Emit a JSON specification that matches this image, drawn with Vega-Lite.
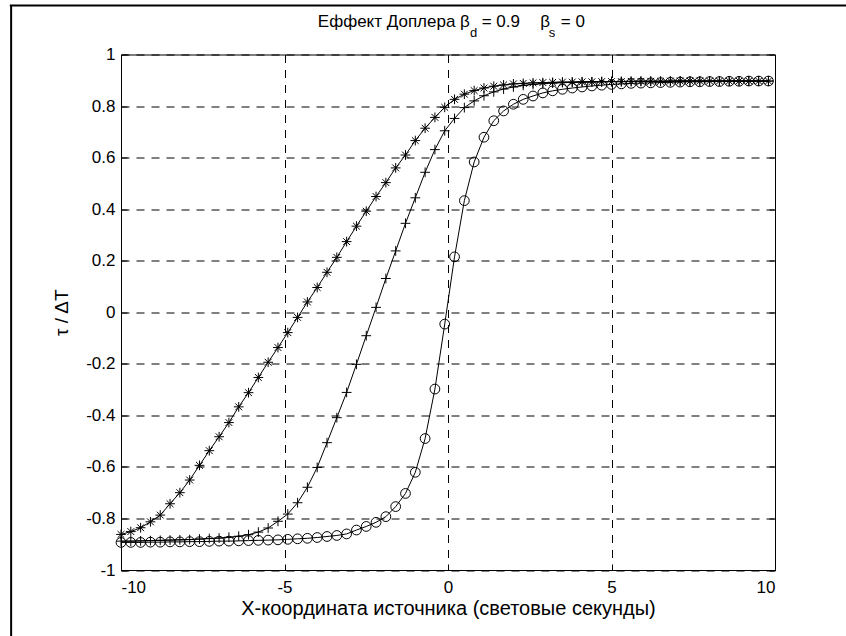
{
  "$schema": "https://vega.github.io/schema/vega-lite/v6.json",
  "width": 654,
  "height": 515.5,
  "autosize": {"type": "none"},
  "padding": {"left": 121, "top": 54.5, "right": 71, "bottom": 66},
  "background": "white",
  "config": {
    "view": {"stroke": "#000", "strokeWidth": 1},
    "font": "Liberation Sans",
    "axis": {"labelFont": "Liberation Sans", "titleFont": "Liberation Sans", "labelColor": "#000", "titleColor": "#000", "tickColor": "#000", "domainColor": "#000"}
  },
  "datasets": {
    "curves": [
      {"x": -10, "y": -0.862, "s": "star"}, {"x": -9.7, "y": -0.851, "s": "star"}, {"x": -9.4, "y": -0.836, "s": "star"}, {"x": -9.1, "y": -0.813, "s": "star"}, {"x": -8.8, "y": -0.787, "s": "star"}, {"x": -8.5, "y": -0.743, "s": "star"}, {"x": -8.2, "y": -0.7, "s": "star"}, {"x": -7.9, "y": -0.651, "s": "star"}, {"x": -7.6, "y": -0.594, "s": "star"}, {"x": -7.3, "y": -0.537, "s": "star"},
      {"x": -7, "y": -0.483, "s": "star"}, {"x": -6.7, "y": -0.428, "s": "star"}, {"x": -6.4, "y": -0.367, "s": "star"}, {"x": -6.1, "y": -0.312, "s": "star"}, {"x": -5.8, "y": -0.253, "s": "star"}, {"x": -5.5, "y": -0.194, "s": "star"}, {"x": -5.2, "y": -0.137, "s": "star"}, {"x": -4.9, "y": -0.079, "s": "star"}, {"x": -4.6, "y": -0.02, "s": "star"}, {"x": -4.3, "y": 0.04, "s": "star"},
      {"x": -4, "y": 0.096, "s": "star"}, {"x": -3.7, "y": 0.155, "s": "star"}, {"x": -3.4, "y": 0.213, "s": "star"}, {"x": -3.1, "y": 0.274, "s": "star"}, {"x": -2.8, "y": 0.334, "s": "star"}, {"x": -2.5, "y": 0.392, "s": "star"}, {"x": -2.2, "y": 0.449, "s": "star"}, {"x": -1.9, "y": 0.503, "s": "star"}, {"x": -1.6, "y": 0.56, "s": "star"}, {"x": -1.3, "y": 0.61, "s": "star"},
      {"x": -1, "y": 0.666, "s": "star"}, {"x": -0.7, "y": 0.714, "s": "star"}, {"x": -0.4, "y": 0.756, "s": "star"}, {"x": -0.1, "y": 0.795, "s": "star"}, {"x": 0.2, "y": 0.826, "s": "star"}, {"x": 0.5, "y": 0.846, "s": "star"}, {"x": 0.8, "y": 0.86, "s": "star"}, {"x": 1.1, "y": 0.87, "s": "star"}, {"x": 1.4, "y": 0.877, "s": "star"}, {"x": 1.7, "y": 0.882, "s": "star"},
      {"x": 2, "y": 0.886, "s": "star"}, {"x": 2.3, "y": 0.888, "s": "star"}, {"x": 2.6, "y": 0.89, "s": "star"}, {"x": 2.9, "y": 0.891, "s": "star"}, {"x": 3.2, "y": 0.892, "s": "star"}, {"x": 3.5, "y": 0.893, "s": "star"}, {"x": 3.8, "y": 0.893, "s": "star"}, {"x": 4.1, "y": 0.894, "s": "star"}, {"x": 4.4, "y": 0.894, "s": "star"}, {"x": 4.7, "y": 0.895, "s": "star"},
      {"x": 5, "y": 0.895, "s": "star"}, {"x": 5.3, "y": 0.895, "s": "star"}, {"x": 5.6, "y": 0.896, "s": "star"}, {"x": 5.9, "y": 0.896, "s": "star"}, {"x": 6.2, "y": 0.896, "s": "star"}, {"x": 6.5, "y": 0.896, "s": "star"}, {"x": 6.8, "y": 0.897, "s": "star"}, {"x": 7.1, "y": 0.897, "s": "star"}, {"x": 7.4, "y": 0.897, "s": "star"}, {"x": 7.7, "y": 0.897, "s": "star"},
      {"x": 8, "y": 0.897, "s": "star"}, {"x": 8.3, "y": 0.897, "s": "star"}, {"x": 8.6, "y": 0.897, "s": "star"}, {"x": 8.9, "y": 0.897, "s": "star"}, {"x": 9.2, "y": 0.897, "s": "star"}, {"x": 9.5, "y": 0.897, "s": "star"}, {"x": 9.8, "y": 0.897, "s": "star"},

      {"x": -10, "y": -0.888, "s": "plus"}, {"x": -9.7, "y": -0.888, "s": "plus"}, {"x": -9.4, "y": -0.887, "s": "plus"}, {"x": -9.1, "y": -0.886, "s": "plus"}, {"x": -8.8, "y": -0.885, "s": "plus"}, {"x": -8.5, "y": -0.884, "s": "plus"}, {"x": -8.2, "y": -0.883, "s": "plus"}, {"x": -7.9, "y": -0.882, "s": "plus"}, {"x": -7.6, "y": -0.88, "s": "plus"}, {"x": -7.3, "y": -0.878, "s": "plus"},
      {"x": -7, "y": -0.876, "s": "plus"}, {"x": -6.7, "y": -0.873, "s": "plus"}, {"x": -6.4, "y": -0.869, "s": "plus"}, {"x": -6.1, "y": -0.863, "s": "plus"}, {"x": -5.8, "y": -0.853, "s": "plus"}, {"x": -5.5, "y": -0.837, "s": "plus"}, {"x": -5.2, "y": -0.811, "s": "plus"}, {"x": -4.9, "y": -0.783, "s": "plus"}, {"x": -4.6, "y": -0.739, "s": "plus"}, {"x": -4.3, "y": -0.679, "s": "plus"},
      {"x": -4, "y": -0.602, "s": "plus"}, {"x": -3.7, "y": -0.506, "s": "plus"}, {"x": -3.4, "y": -0.409, "s": "plus"}, {"x": -3.1, "y": -0.311, "s": "plus"}, {"x": -2.8, "y": -0.202, "s": "plus"}, {"x": -2.5, "y": -0.091, "s": "plus"}, {"x": -2.2, "y": 0.019, "s": "plus"}, {"x": -1.9, "y": 0.131, "s": "plus"}, {"x": -1.6, "y": 0.238, "s": "plus"}, {"x": -1.3, "y": 0.345, "s": "plus"},
      {"x": -1, "y": 0.444, "s": "plus"}, {"x": -0.7, "y": 0.543, "s": "plus"}, {"x": -0.4, "y": 0.631, "s": "plus"}, {"x": -0.1, "y": 0.704, "s": "plus"}, {"x": 0.2, "y": 0.752, "s": "plus"}, {"x": 0.5, "y": 0.794, "s": "plus"}, {"x": 0.8, "y": 0.82, "s": "plus"}, {"x": 1.1, "y": 0.84, "s": "plus"}, {"x": 1.4, "y": 0.855, "s": "plus"}, {"x": 1.7, "y": 0.866, "s": "plus"},
      {"x": 2, "y": 0.874, "s": "plus"}, {"x": 2.3, "y": 0.88, "s": "plus"}, {"x": 2.6, "y": 0.884, "s": "plus"}, {"x": 2.9, "y": 0.887, "s": "plus"}, {"x": 3.2, "y": 0.889, "s": "plus"}, {"x": 3.5, "y": 0.891, "s": "plus"}, {"x": 3.8, "y": 0.892, "s": "plus"}, {"x": 4.1, "y": 0.893, "s": "plus"}, {"x": 4.4, "y": 0.894, "s": "plus"}, {"x": 4.7, "y": 0.894, "s": "plus"},
      {"x": 5, "y": 0.895, "s": "plus"}, {"x": 5.3, "y": 0.895, "s": "plus"}, {"x": 5.6, "y": 0.895, "s": "plus"}, {"x": 5.9, "y": 0.896, "s": "plus"}, {"x": 6.2, "y": 0.896, "s": "plus"}, {"x": 6.5, "y": 0.896, "s": "plus"}, {"x": 6.8, "y": 0.896, "s": "plus"}, {"x": 7.1, "y": 0.897, "s": "plus"}, {"x": 7.4, "y": 0.897, "s": "plus"}, {"x": 7.7, "y": 0.897, "s": "plus"},
      {"x": 8, "y": 0.897, "s": "plus"}, {"x": 8.3, "y": 0.897, "s": "plus"}, {"x": 8.6, "y": 0.897, "s": "plus"}, {"x": 8.9, "y": 0.897, "s": "plus"}, {"x": 9.2, "y": 0.897, "s": "plus"}, {"x": 9.5, "y": 0.897, "s": "plus"}, {"x": 9.8, "y": 0.897, "s": "plus"},

      {"x": -10, "y": -0.893, "s": "circle"}, {"x": -9.7, "y": -0.893, "s": "circle"}, {"x": -9.4, "y": -0.893, "s": "circle"}, {"x": -9.1, "y": -0.892, "s": "circle"}, {"x": -8.8, "y": -0.892, "s": "circle"}, {"x": -8.5, "y": -0.891, "s": "circle"}, {"x": -8.2, "y": -0.891, "s": "circle"}, {"x": -7.9, "y": -0.89, "s": "circle"}, {"x": -7.6, "y": -0.89, "s": "circle"}, {"x": -7.3, "y": -0.889, "s": "circle"},
      {"x": -7, "y": -0.888, "s": "circle"}, {"x": -6.7, "y": -0.888, "s": "circle"}, {"x": -6.4, "y": -0.887, "s": "circle"}, {"x": -6.1, "y": -0.886, "s": "circle"}, {"x": -5.8, "y": -0.885, "s": "circle"}, {"x": -5.5, "y": -0.884, "s": "circle"}, {"x": -5.2, "y": -0.883, "s": "circle"}, {"x": -4.9, "y": -0.881, "s": "circle"}, {"x": -4.6, "y": -0.879, "s": "circle"}, {"x": -4.3, "y": -0.877, "s": "circle"},
      {"x": -4, "y": -0.874, "s": "circle"}, {"x": -3.7, "y": -0.87, "s": "circle"}, {"x": -3.4, "y": -0.866, "s": "circle"}, {"x": -3.1, "y": -0.86, "s": "circle"}, {"x": -2.8, "y": -0.845, "s": "circle"}, {"x": -2.5, "y": -0.831, "s": "circle"}, {"x": -2.2, "y": -0.815, "s": "circle"}, {"x": -1.9, "y": -0.793, "s": "circle"}, {"x": -1.6, "y": -0.754, "s": "circle"}, {"x": -1.3, "y": -0.703, "s": "circle"},
      {"x": -1, "y": -0.621, "s": "circle"}, {"x": -0.7, "y": -0.49, "s": "circle"}, {"x": -0.4, "y": -0.298, "s": "circle"}, {"x": -0.1, "y": -0.046, "s": "circle"}, {"x": 0.2, "y": 0.215, "s": "circle"}, {"x": 0.5, "y": 0.433, "s": "circle"}, {"x": 0.8, "y": 0.583, "s": "circle"}, {"x": 1.1, "y": 0.679, "s": "circle"}, {"x": 1.4, "y": 0.743, "s": "circle"}, {"x": 1.7, "y": 0.781, "s": "circle"},
      {"x": 2, "y": 0.807, "s": "circle"}, {"x": 2.3, "y": 0.826, "s": "circle"}, {"x": 2.6, "y": 0.839, "s": "circle"}, {"x": 2.9, "y": 0.851, "s": "circle"}, {"x": 3.2, "y": 0.859, "s": "circle"}, {"x": 3.5, "y": 0.865, "s": "circle"}, {"x": 3.8, "y": 0.87, "s": "circle"}, {"x": 4.1, "y": 0.874, "s": "circle"}, {"x": 4.4, "y": 0.878, "s": "circle"}, {"x": 4.7, "y": 0.881, "s": "circle"},
      {"x": 5, "y": 0.884, "s": "circle"}, {"x": 5.3, "y": 0.886, "s": "circle"}, {"x": 5.6, "y": 0.888, "s": "circle"}, {"x": 5.9, "y": 0.889, "s": "circle"}, {"x": 6.2, "y": 0.89, "s": "circle"}, {"x": 6.5, "y": 0.891, "s": "circle"}, {"x": 6.8, "y": 0.892, "s": "circle"}, {"x": 7.1, "y": 0.893, "s": "circle"}, {"x": 7.4, "y": 0.894, "s": "circle"}, {"x": 7.7, "y": 0.894, "s": "circle"},
      {"x": 8, "y": 0.895, "s": "circle"}, {"x": 8.3, "y": 0.895, "s": "circle"}, {"x": 8.6, "y": 0.896, "s": "circle"}, {"x": 8.9, "y": 0.896, "s": "circle"}, {"x": 9.2, "y": 0.897, "s": "circle"}, {"x": 9.5, "y": 0.897, "s": "circle"}, {"x": 9.8, "y": 0.897, "s": "circle"}
    ]
  },
  "layer": [
    {
      "data": {"name": "curves"},
      "mark": {"type": "line", "color": "#000", "strokeWidth": 1},
      "encoding": {
        "x": {"field": "x", "type": "quantitative", "scale": {"domain": [-10, 10], "nice": false},
          "axis": {"orient": "bottom", "values": [-10, -5, 0, 5, 10], "labelExpr": "'' + datum.value", "labelFontSize": 17, "labelPadding": 15, "tickSize": -6, "tickWidth": 1, "domain": true, "domainWidth": 1, "grid": true, "gridColor": "#000", "gridOpacity": 1, "gridDash": [8, 7], "gridWidth": 1,
            "title": "Х-координата источника (световые секунды)", "titleFontSize": 20, "titleFontWeight": "normal", "titleBaseline": "alphabetic", "titleY": 44}},
        "y": {"field": "y", "type": "quantitative", "scale": {"domain": [-1, 1], "nice": false, "zero": false},
          "axis": {"orient": "left", "values": [-1, -0.8, -0.6, -0.4, -0.2, 0, 0.2, 0.4, 0.6, 0.8, 1], "labelExpr": "'' + datum.value", "labelFontSize": 17, "labelPadding": 12, "tickSize": -6, "tickWidth": 1, "domain": true, "domainWidth": 1, "grid": true, "gridColor": "#000", "gridOpacity": 1, "gridDash": [8, 7], "gridWidth": 1,
            "title": "τ / ΔT", "titleFontSize": 19, "titleFontWeight": "normal", "titleBaseline": "alphabetic", "titleX": -54, "titleAngle": 270}},
        "detail": {"field": "s", "type": "nominal"}
      }
    },
    {
      "data": {"name": "curves"},
      "mark": {"type": "point", "filled": false, "color": "#000", "strokeWidth": 1, "opacity": 1, "size": 95},
      "encoding": {
        "x": {"field": "x", "type": "quantitative", "scale": {"domain": [-10, 10], "nice": false},
          "axis": {"orient": "top", "values": [-10, -5, 0, 5, 10], "labels": false, "tickSize": -6, "domain": false, "grid": false, "title": null}},
        "y": {"field": "y", "type": "quantitative", "scale": {"domain": [-1, 1], "nice": false, "zero": false},
          "axis": {"orient": "right", "values": [-1, -0.8, -0.6, -0.4, -0.2, 0, 0.2, 0.4, 0.6, 0.8, 1], "labels": false, "tickSize": -6, "domain": false, "grid": false, "title": null}},
        "shape": {"field": "s", "type": "nominal", "legend": null,
          "scale": {"domain": ["star", "plus", "circle"], "range": ["M-1,0L1,0M0,-1L0,1M-0.7,-0.7L0.7,0.7M-0.7,0.7L0.7,-0.7", "M-1,0L1,0M0,-1L0,1", "circle"]}}
      }
    },
    {
      "data": {"values": [{}]},
      "mark": {"type": "rule", "color": "#000", "strokeWidth": 2},
      "encoding": {
        "x": {"datum": -13.36, "type": "quantitative", "scale": {"domain": [-10, 10], "nice": false}, "axis": null},
        "y": {"datum": 1.19, "type": "quantitative", "scale": {"domain": [-1, 1], "nice": false, "zero": false}, "axis": null},
        "y2": {"datum": -1.6}
      }
    },
    {
      "data": {"values": [{}]},
      "mark": {"type": "rule", "color": "#000", "strokeWidth": 2},
      "encoding": {
        "x": {"datum": -13.4, "type": "quantitative", "scale": {"domain": [-10, 10], "nice": false}, "axis": null},
        "x2": {"datum": 13},
        "y": {"datum": 1.19, "type": "quantitative", "scale": {"domain": [-1, 1], "nice": false, "zero": false}, "axis": null}
      }
    },
    {
      "data": {"values": [{}]},
      "mark": {"type": "text", "text": "Еффект Доплера β", "align": "right", "baseline": "alphabetic", "fontSize": 17, "font": "Liberation Sans", "color": "#000"},
      "encoding": {
        "x": {"datum": 0.67, "type": "quantitative", "scale": {"domain": [-10, 10], "nice": false}, "axis": null},
        "y": {"datum": 1.1067, "type": "quantitative", "scale": {"domain": [-1, 1], "nice": false, "zero": false}, "axis": null}
      }
    },
    {
      "data": {"values": [{}]},
      "mark": {"type": "text", "text": "d", "align": "left", "baseline": "alphabetic", "fontSize": 13, "font": "Liberation Sans", "color": "#000"},
      "encoding": {
        "x": {"datum": 0.67, "type": "quantitative", "scale": {"domain": [-10, 10], "nice": false}, "axis": null},
        "y": {"datum": 1.068, "type": "quantitative", "scale": {"domain": [-1, 1], "nice": false, "zero": false}, "axis": null}
      }
    },
    {
      "data": {"values": [{}]},
      "mark": {"type": "text", "text": "=  0.9", "align": "left", "baseline": "alphabetic", "fontSize": 17, "font": "Liberation Sans", "color": "#000"},
      "encoding": {
        "x": {"datum": 1.03, "type": "quantitative", "scale": {"domain": [-10, 10], "nice": false}, "axis": null},
        "y": {"datum": 1.1067, "type": "quantitative", "scale": {"domain": [-1, 1], "nice": false, "zero": false}, "axis": null}
      }
    },
    {
      "data": {"values": [{}]},
      "mark": {"type": "text", "text": "β", "align": "left", "baseline": "alphabetic", "fontSize": 17, "font": "Liberation Sans", "color": "#000"},
      "encoding": {
        "x": {"datum": 2.82, "type": "quantitative", "scale": {"domain": [-10, 10], "nice": false}, "axis": null},
        "y": {"datum": 1.1067, "type": "quantitative", "scale": {"domain": [-1, 1], "nice": false, "zero": false}, "axis": null}
      }
    },
    {
      "data": {"values": [{}]},
      "mark": {"type": "text", "text": "s", "align": "left", "baseline": "alphabetic", "fontSize": 13, "font": "Liberation Sans", "color": "#000"},
      "encoding": {
        "x": {"datum": 3.08, "type": "quantitative", "scale": {"domain": [-10, 10], "nice": false}, "axis": null},
        "y": {"datum": 1.068, "type": "quantitative", "scale": {"domain": [-1, 1], "nice": false, "zero": false}, "axis": null}
      }
    },
    {
      "data": {"values": [{}]},
      "mark": {"type": "text", "text": "=  0", "align": "left", "baseline": "alphabetic", "fontSize": 17, "font": "Liberation Sans", "color": "#000"},
      "encoding": {
        "x": {"datum": 3.45, "type": "quantitative", "scale": {"domain": [-10, 10], "nice": false}, "axis": null},
        "y": {"datum": 1.1067, "type": "quantitative", "scale": {"domain": [-1, 1], "nice": false, "zero": false}, "axis": null}
      }
    }
  ],
  "resolve": {"axis": {"x": "independent", "y": "independent"}}
}
